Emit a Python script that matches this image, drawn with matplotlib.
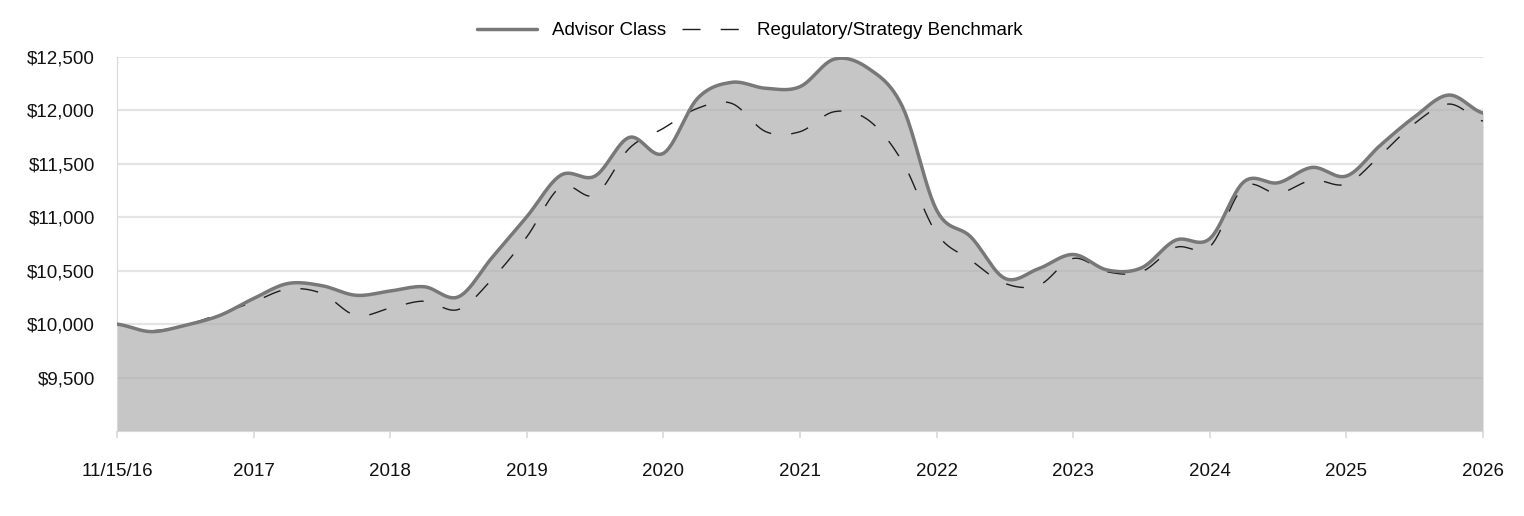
import matplotlib
matplotlib.use('Agg')
import numpy as np
import matplotlib.pyplot as plt
from matplotlib.ticker import FuncFormatter

plt.rcParams['font.family'] = ['Liberation Sans', 'DejaVu Sans']
plt.rcParams['lines.scale_dashes'] = False

# quarterly values, 11/15/16 .. 11/15/26
quarters = np.arange(41) / 4.0
advisor = [10000, 9930, 9990, 10080, 10240, 10380, 10360, 10270, 10310, 10350,
           10256, 10630, 11005, 11395, 11386, 11748, 11598, 12113, 12263, 12207,
           12222, 12480, 12394, 12035, 11067, 10817, 10428, 10521, 10652, 10506,
           10527, 10786, 10800, 11333, 11323, 11467, 11386, 11676, 11941, 12144,
           11975]
benchmark = [10000, 9940, 9990, 10095, 10209, 10328, 10287, 10080, 10150, 10215,
             10137, 10428, 10817, 11286, 11208, 11645, 11833, 12020, 12066, 11801,
             11801, 11988, 11910, 11520, 10849, 10599, 10381, 10365, 10615, 10490,
             10490, 10718, 10724, 11286, 11224, 11348, 11311, 11582, 11879, 12060,
             11900]
tick_labels = ['11/15/16', '2017', '2018', '2019', '2020', '2021', '2022',
               '2023', '2024', '2025', '2026']


def smooth(x, y, n=12):
    # Catmull-Rom curve through the points (drawing only)
    x = np.asarray(x, float)
    y = np.asarray(y, float)
    px = np.concatenate([[2 * x[0] - x[1]], x, [2 * x[-1] - x[-2]]])
    py = np.concatenate([[y[0]], y, [y[-1]]])
    xs, ys = [], []
    t = np.linspace(0, 1, n, endpoint=False)
    for i in range(1, len(px) - 2):
        for p, out in ((px, xs), (py, ys)):
            p0, p1, p2, p3 = p[i - 1], p[i], p[i + 1], p[i + 2]
            out.append(0.5 * (2 * p1 + (-p0 + p2) * t
                              + (2 * p0 - 5 * p1 + 4 * p2 - p3) * t ** 2
                              + (-p0 + 3 * p1 - 3 * p2 + p3) * t ** 3))
    xs = np.concatenate(xs + [[x[-1]]])
    ys = np.concatenate(ys + [[y[-1]]])
    return xs, ys


fig = plt.figure(figsize=(15.24, 5.16), dpi=100)
ax = fig.add_axes([117 / 1524, 1 - 431 / 516, (1483 - 117) / 1524, (431 - 57) / 516])

ax.set_axisbelow(True)
ax.grid(axis='y', color='#e4e4e4', linewidth=1.6)

sx, sy = smooth(quarters, advisor)
bx, by = smooth(quarters, benchmark)
ax.fill_between(sx, 9000, sy, color='#b0b0b0', alpha=0.72, linewidth=0, zorder=2)
ax.plot(sx, sy, color='#787878', linewidth=2.5, label='Advisor Class', zorder=4,
        solid_capstyle='round')
ax.plot(bx, by, color='#1e1e1e', linewidth=1.0, dashes=(13, 14.5),
        label='Regulatory/Strategy Benchmark', zorder=3)

ax.set_xlim(0, 10)
ax.set_ylim(9000, 12500)
ax.set_yticks([9500, 10000, 10500, 11000, 11500, 12000, 12500])
ax.yaxis.set_major_formatter(FuncFormatter(lambda v, p: f'${v:,.0f}'))
ax.set_xticks(range(11))
ax.set_xticklabels(tick_labels)

for s in ('top', 'right'):
    ax.spines[s].set_visible(False)
ax.spines['left'].set_color('#d8d8d8')
ax.spines['bottom'].set_color('#d8d8d8')
ax.tick_params(axis='y', length=0, pad=16, labelsize=13.5, labelcolor='#111111')
ax.tick_params(axis='x', length=5, width=1.2, color='#d8d8d8', pad=18,
               labelsize=13.5, labelcolor='#111111')

fig.legend(loc='upper center', bbox_to_anchor=(0.492, 0.99), ncol=2, frameon=False,
           fontsize=13.5, handlelength=3.2, handletextpad=0.8, columnspacing=0.8)

fig.savefig('out.png', dpi=100, facecolor='white')
